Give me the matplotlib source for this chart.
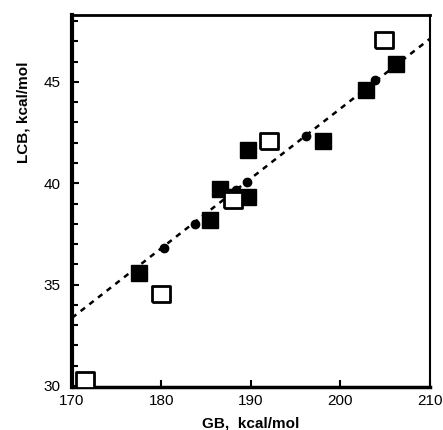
import matplotlib
matplotlib.use("Agg")
import matplotlib.pyplot as plt
from matplotlib.ticker import MultipleLocator

plt.rcParams['font.family'] = ['Liberation Sans', 'DejaVu Sans']

# filled squares
filled_gb = [177.5, 185.4, 186.5, 189.7, 189.7, 198.0, 202.9, 206.2]
filled_lcb = [35.55, 38.2, 39.7, 41.65, 39.3, 42.1, 44.6, 45.9]

# open squares
open_gb = [171.4, 180.0, 188.0, 192.0, 204.9]
open_lcb = [30.3, 34.55, 39.2, 42.1, 47.05]

# small circles (on the fit line)
circ_gb = [180.3, 183.7, 187.65, 188.3, 189.55, 196.1, 203.9]
circ_lcb = [36.8, 38.0, 39.5, 39.67, 40.06, 42.33, 45.1]

# fit line end points
line_gb = [170, 210]
line_lcb = [33.36, 47.13]

# slightly wide rectangle for the open markers
rect = [(-1.2, -1), (1.2, -1), (1.2, 1), (-1.2, 1), (-1.2, -1)]

fig = plt.figure(figsize=(4.43, 4.30), dpi=100)
ax = fig.add_axes([0.1625, 0.10, 0.808, 0.865])

ax.plot(line_gb, line_lcb, color='black', linestyle=(0, (2.2, 2.2)), linewidth=1.8, zorder=2)
ax.plot(circ_gb, circ_lcb, 'o', color='black', markersize=6, zorder=3)
ax.plot(filled_gb, filled_lcb, 's', color='black', markersize=11, zorder=4)
ax.plot(open_gb, open_lcb, marker=rect, linestyle='none', markerfacecolor='white',
        markeredgecolor='black', markeredgewidth=2, markersize=13, zorder=5)

ax.set_xlim(170, 210)
ax.set_ylim(29.95, 48.3)
ax.set_xticks([170, 180, 190, 200, 210])
ax.yaxis.set_major_locator(MultipleLocator(5))
ax.yaxis.set_minor_locator(MultipleLocator(1))

ax.tick_params(axis='both', direction='in', labelsize=11, width=1.5, length=5)
ax.tick_params(axis='y', which='minor', direction='in', width=1.5, length=4)
ax.tick_params(axis='y', pad=8)
ax.tick_params(axis='x', pad=5)

for side, lw in [('left', 3), ('bottom', 2.5), ('top', 2), ('right', 1.5)]:
    ax.spines[side].set_linewidth(lw)

ax.set_xlabel('GB,  kcal/mol', fontsize=11, fontweight='bold', labelpad=6)
ax.set_ylabel('LCB, kcal/mol', fontsize=11, fontweight='bold')
ax.yaxis.set_label_coords(-0.115, 0.74)

fig.savefig('out.png', dpi=100)
